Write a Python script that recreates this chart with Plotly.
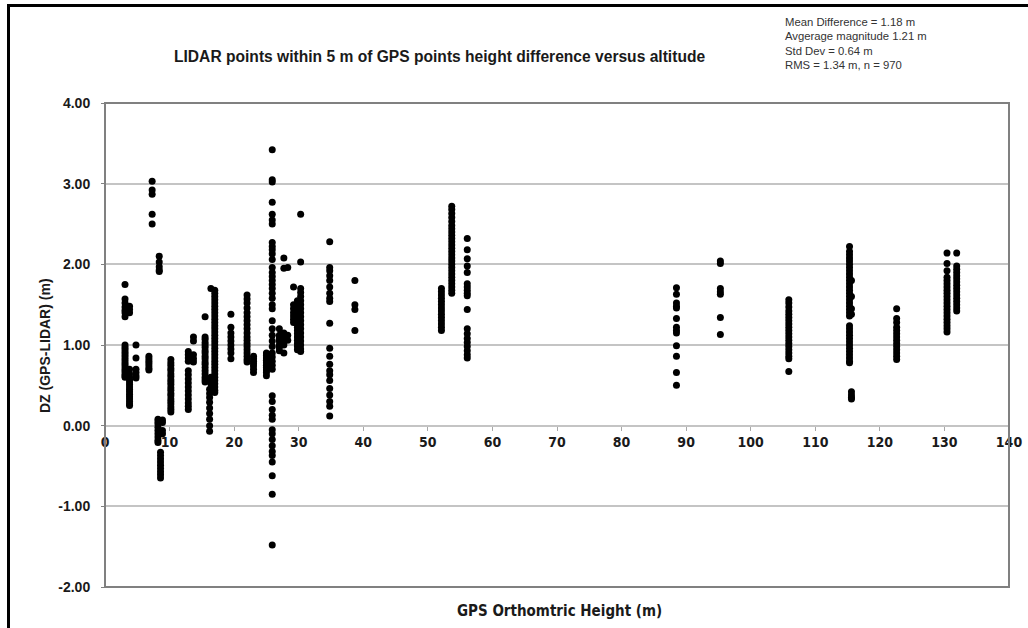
import plotly.graph_objects as go

# GPS orthometric height (m) of each group of LIDAR comparison points
column_heights = [
    3.1, 3.8, 4.8, 6.8, 7.3, 8.4, 8.2, 8.9, 8.6, 10.2,
    12.9, 13.7, 15.5, 16.2, 17.0, 16.4, 19.5, 22.0, 23.0, 25.0,
    25.6, 25.9, 27.0, 27.7, 28.3, 29.2, 29.8, 30.3, 34.8, 38.7,
    52.1, 53.7, 56.1, 88.5, 95.3, 105.9, 115.3, 115.6, 122.6, 130.4,
    131.9,
]

# Height difference DZ = GPS - LIDAR (m) for each group
column_dz = [
    [1.75, 1.57, 1.52, 1.47, 1.43, 1.40, 1.35, 1.00, 0.97, 0.94, 0.91, 0.88,
     0.85, 0.82, 0.79, 0.76, 0.73, 0.70, 0.67, 0.64, 0.62, 0.60],
    [1.48, 1.44, 1.40, 0.70, 0.64, 0.60, 0.57, 0.54, 0.51, 0.48, 0.45, 0.42,
     0.39, 0.36, 0.33, 0.30, 0.27, 0.25],
    [1.00, 0.84, 0.70, 0.66, 0.62, 0.59],
    [0.86, 0.83, 0.80, 0.77, 0.74, 0.71, 0.69],
    [3.03, 2.92, 2.87, 2.62, 2.50],
    [2.10, 2.03, 1.97, 1.93, 1.91],
    [0.08, 0.05, 0.02, -0.02, -0.06, -0.10, -0.14, -0.18, -0.21],
    [0.07, 0.04, -0.06, -0.10],
    [-0.33, -0.37, -0.41, -0.45, -0.49, -0.53, -0.57, -0.61, -0.65],
    [0.82, 0.78, 0.75, 0.71, 0.68, 0.64, 0.61, 0.57, 0.54, 0.51, 0.47, 0.44,
     0.40, 0.37, 0.33, 0.30, 0.27, 0.23, 0.20, 0.17],
    [0.92, 0.88, 0.84, 0.80, 0.68, 0.63, 0.58, 0.53, 0.48, 0.43, 0.38, 0.33,
     0.28, 0.24, 0.20],
    [1.10, 1.05, 0.88, 0.83, 0.79],
    [1.35, 1.10, 1.07, 1.03, 1.00, 0.97, 0.93, 0.90, 0.86, 0.83, 0.79, 0.76,
     0.72, 0.68, 0.64, 0.60, 0.57, 0.54],
    [0.45, 0.40, 0.35, 0.29, 0.22, 0.15, 0.08, 0.00, -0.07],
    [1.68, 1.64, 1.60, 1.56, 1.52, 1.48, 1.44, 1.40, 1.36, 1.32, 1.28, 1.24,
     1.20, 1.16, 1.12, 1.08, 1.04, 1.00, 0.96, 0.92, 0.88, 0.84, 0.80, 0.76,
     0.72, 0.68, 0.64, 0.60, 0.56, 0.52, 0.48, 0.44, 0.41],
    [1.70, 0.60, 0.57, 0.55, 0.52],
    [1.38, 1.22, 1.15, 1.10, 1.05, 1.00, 0.95, 0.90, 0.83],
    [1.62, 1.57, 1.52, 1.46, 1.40, 1.35, 1.30, 1.25, 1.20, 1.15, 1.10, 1.06,
     1.02, 0.98, 0.94, 0.90, 0.86, 0.82, 0.79],
    [0.86, 0.83, 0.80, 0.77, 0.74, 0.70, 0.66],
    [0.90, 0.87, 0.84, 0.81, 0.78, 0.75, 0.72, 0.69, 0.66, 0.62],
    [0.88, 0.80, 0.72],
    [3.42, 3.05, 3.02, 2.77, 2.62, 2.55, 2.50, 2.27, 2.22, 2.18, 2.13, 2.06,
     1.96, 1.90, 1.85, 1.80, 1.75, 1.70, 1.64, 1.58, 1.50, 1.45, 1.30, 1.20,
     1.12, 1.05, 0.98, 0.90, 0.85, 0.80, 0.75, 0.70, 0.37, 0.30, 0.20, 0.13,
     0.08, -0.05, -0.10, -0.17, -0.25, -0.32, -0.37, -0.45, -0.62, -0.85,
     -1.48],
    [1.20, 1.12, 1.08, 1.05, 1.00, 0.97, 0.93],
    [2.08, 1.95, 1.15, 1.10, 1.05, 1.00, 0.90],
    [1.96, 1.12, 1.06],
    [1.72, 1.50, 1.45, 1.40, 1.36, 1.32, 1.28],
    [1.55, 1.50, 1.46, 1.42, 1.38, 1.34, 1.30, 1.26, 1.22, 1.18, 1.14, 1.10,
     1.06, 1.02, 0.98, 0.94],
    [2.62, 2.03, 1.70, 1.65, 1.60, 1.55, 1.50, 1.45, 1.40, 1.35, 1.30, 1.25,
     1.20, 1.15, 1.10, 1.05, 1.00, 0.95, 0.92],
    [2.28, 1.96, 1.92, 1.86, 1.80, 1.72, 1.64, 1.58, 1.54, 1.27, 0.96, 0.86,
     0.76, 0.68, 0.63, 0.56, 0.46, 0.38, 0.30, 0.24, 0.12],
    [1.80, 1.50, 1.44, 1.18],
    [1.70, 1.66, 1.62, 1.58, 1.54, 1.50, 1.46, 1.42, 1.38, 1.34, 1.30, 1.26,
     1.22, 1.18],
    [2.72, 2.68, 2.63, 2.58, 2.53, 2.48, 2.44, 2.40, 2.36, 2.32, 2.28, 2.24,
     2.20, 2.16, 2.12, 2.08, 2.04, 2.00, 1.96, 1.92, 1.88, 1.84, 1.80, 1.76,
     1.72, 1.68, 1.64],
    [2.32, 2.18, 2.07, 1.98, 1.90, 1.76, 1.72, 1.68, 1.64, 1.61, 1.44, 1.20,
     1.14, 1.08, 1.03, 0.98, 0.93, 0.88, 0.84],
    [1.71, 1.63, 1.52, 1.48, 1.46, 1.33, 1.22, 1.18, 1.15, 0.99, 0.86, 0.66,
     0.50],
    [2.04, 2.01, 1.70, 1.66, 1.63, 1.34, 1.13],
    [1.56, 1.52, 1.47, 1.42, 1.38, 1.34, 1.30, 1.26, 1.22, 1.18, 1.14, 1.10,
     1.06, 1.02, 0.98, 0.94, 0.90, 0.86, 0.83, 0.67],
    [2.22, 2.16, 2.12, 2.08, 2.04, 2.00, 1.96, 1.92, 1.88, 1.84, 1.80, 1.76,
     1.72, 1.68, 1.64, 1.60, 1.56, 1.52, 1.48, 1.44, 1.40, 1.36, 1.24, 1.20,
     1.16, 1.12, 1.08, 1.04, 1.00, 0.96, 0.92, 0.88, 0.84, 0.80, 0.78],
    [1.80, 1.60, 1.45, 1.38, 0.42, 0.38, 0.35, 0.33],
    [1.45, 1.33, 1.28, 1.22, 1.18, 1.14, 1.10, 1.06, 1.02, 0.98, 0.94, 0.90,
     0.86, 0.82],
    [2.14, 2.01, 1.92, 1.84, 1.80, 1.76, 1.72, 1.68, 1.64, 1.60, 1.56, 1.52,
     1.48, 1.44, 1.40, 1.36, 1.32, 1.28, 1.24, 1.20, 1.16],
    [2.14, 1.98, 1.94, 1.90, 1.86, 1.82, 1.78, 1.74, 1.70, 1.66, 1.62, 1.58,
     1.54, 1.50, 1.46, 1.42],
]

# DZ axis ticks
dz_ticks = [-2, -1, 0, 1, 2, 3, 4]
dz_tick_labels = ["-2.00", "-1.00", "0.00", "1.00", "2.00", "3.00", "4.00"]

stats_lines = [
    "Mean Difference = 1.18 m",
    "Avgerage magnitude 1.21 m",
    "Std Dev = 0.64 m",
    "RMS = 1.34 m, n = 970",
]

chart_title = "LIDAR points within 5 m of GPS points height difference versus altitude"
x_title = "GPS Orthomtric Height (m)"
y_title = "DZ (GPS-LIDAR) (m)"

x_vals, y_vals = [], []
for h, dzs in zip(column_heights, column_dz):
    for dz in dzs:
        x_vals.append(h)
        y_vals.append(dz)

SANS = "Arial, Liberation Sans, sans-serif"
NARROW = "DejaVu Sans Condensed, sans-serif"

# plot-area geometry in pixels
W, H = 1028, 628
L, R, T, B = 105, 19, 103, 41
PW, PH = W - L - R, H - T - B


def px_x(px):
    return (px - L) / PW


def px_y(py):
    return (H - B - py) / PH


fig = go.Figure(
    go.Scatter(
        x=x_vals,
        y=y_vals,
        mode="markers",
        marker=dict(color="#000000", size=7, line=dict(width=0)),
        showlegend=False,
    )
)

y_min, y_max = dz_ticks[0], dz_ticks[-1]

fig.update_layout(
    width=W,
    height=H,
    margin=dict(l=L, r=R, t=T, b=B, autoexpand=False),
    paper_bgcolor="#ffffff",
    plot_bgcolor="#ffffff",
    xaxis=dict(
        range=[0, 140],
        tick0=0,
        dtick=10,
        anchor="free",
        position=(0 - y_min) / (y_max - y_min),
        showline=False,
        showgrid=False,
        zeroline=False,
        ticks="outside",
        ticklen=4,
        tickwidth=1,
        tickcolor="#a8a8a8",
        tickfont=dict(family=NARROW, size=14, color="#1a1a1a", weight="bold"),
    ),
    yaxis=dict(
        range=[y_min, y_max],
        tickvals=dz_ticks,
        ticktext=dz_tick_labels,
        showgrid=True,
        gridcolor="#c4c4c4",
        gridwidth=2,
        zeroline=True,
        zerolinecolor="#c4c4c4",
        zerolinewidth=2,
        showline=False,
        ticks="outside",
        ticklen=3,
        tickcolor="#808080",
        ticklabelstandoff=8,
        tickfont=dict(family=SANS, size=14, color="#1a1a1a", weight="bold"),
    ),
    shapes=[
        # plot frame
        dict(type="rect", xref="paper", yref="paper", x0=0, x1=1, y0=0, y1=1,
             line=dict(color="#808080", width=2), layer="above"),
        # outer chart border (left and top edges)
        dict(type="line", xref="paper", yref="paper",
             x0=px_x(8.5), x1=px_x(8.5), y0=px_y(4), y1=px_y(640),
             line=dict(color="#000000", width=3)),
        dict(type="line", xref="paper", yref="paper",
             x0=px_x(7), x1=px_x(1040), y0=px_y(5.5), y1=px_y(5.5),
             line=dict(color="#000000", width=3)),
    ],
)

annotations = [
    dict(text=chart_title, x=px_x(439), y=px_y(57), xanchor="center", yanchor="middle",
         font=dict(family=SANS, size=15.6, color="#1a1a1a", weight="bold")),
    dict(text=x_title, x=px_x(559), y=px_y(611), xanchor="center", yanchor="middle",
         font=dict(family=NARROW, size=15, color="#1a1a1a", weight="bold")),
    dict(text=y_title, x=px_x(45), y=px_y(345), xanchor="center", yanchor="middle",
         textangle=-90,
         font=dict(family=SANS, size=14, color="#1a1a1a", weight="bold")),
]
for i, line in enumerate(stats_lines):
    annotations.append(
        dict(text=line, x=px_x(783), y=px_y(21.7 + 14.5 * i), xanchor="left",
             yanchor="middle", font=dict(family=SANS, size=11.3, color="#333333"))
    )
for a in annotations:
    a.update(xref="paper", yref="paper", showarrow=False)
fig.update_layout(annotations=annotations)

fig.write_html("out.html")
